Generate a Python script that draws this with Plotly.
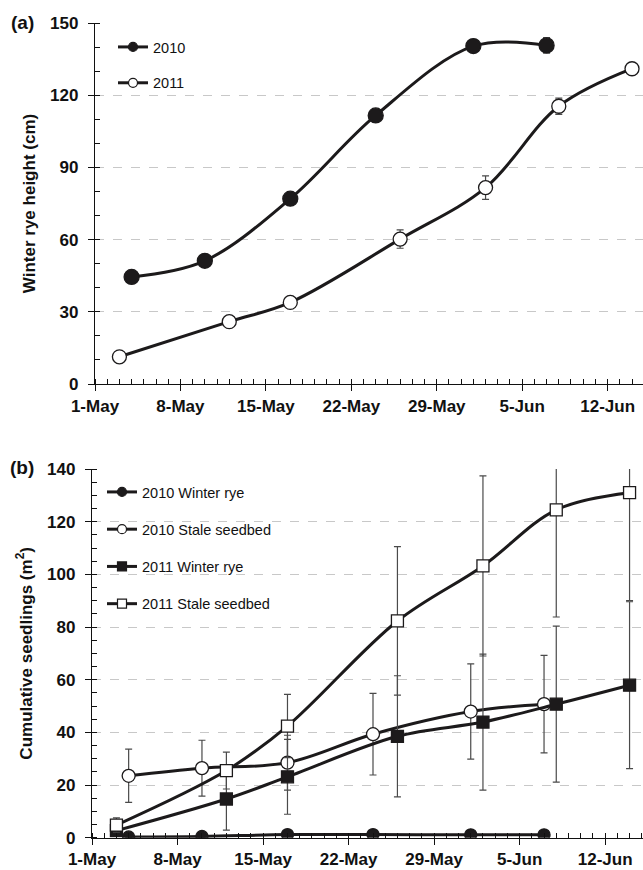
import plotly.graph_objects as go
from datetime import datetime, timedelta

REF_YEAR = "2000"

# ---- Panel (a): winter rye height ----
dates_2010_a = ["05-04", "05-10", "05-17", "05-24", "06-01", "06-07"]
height_2010 = [44.5, 51.2, 77.0, 111.6, 140.4, 140.7]
height_2010_err = [1.0, 1.0, 1.5, 1.5, 1.5, 3.2]

dates_2011_a = ["05-03", "05-12", "05-17", "05-26", "06-02", "06-08", "06-14"]
height_2011 = [11.3, 25.9, 33.9, 60.2, 81.6, 115.4, 131.0]
height_2011_err = [0.8, 1.0, 1.2, 3.8, 4.9, 3.4, 1.5]

# ---- Panel (b): cumulative seedlings ----
dates_2010_b = ["05-04", "05-10", "05-17", "05-24", "06-01", "06-07"]
wr_2010 = [0.3, 0.5, 1.2, 1.2, 1.1, 1.1]
wr_2010_err = [0.3, 0.3, 0.5, 0.5, 0.5, 0.5]
ss_2010 = [23.5, 26.4, 28.5, 39.3, 47.9, 50.7]
ss_2010_err = [10.1, 10.6, 10.4, 15.5, 18.1, 18.5]

dates_2011_b = ["05-03", "05-12", "05-17", "05-26", "06-02", "06-08", "06-14"]
wr_2011 = [2.7, 14.7, 23.1, 38.5, 43.9, 50.7, 57.9]
wr_2011_err = [1.0, 11.8, 14.2, 23.0, 25.8, 29.6, 31.7]
ss_2011 = [4.8, 25.5, 42.4, 82.3, 103.2, 124.5, 131.0]
ss_2011_err = [2.7, 7.0, 12.0, 28.2, 34.2, 40.7, 41.0]

tick_labels = ["1-May", "8-May", "15-May", "22-May", "29-May", "5-Jun", "12-Jun"]


def d(md_list):
    return [f"{REF_YEAR}-{md}" for md in md_list]


start = datetime(2000, 5, 1)
tickvals = [(start + timedelta(days=7 * i)).strftime("%Y-%m-%d") for i in range(len(tick_labels))]
range_a = [start.strftime("%Y-%m-%d"), (start + timedelta(days=44.9)).strftime("%Y-%m-%d %H:%M")]
range_b = [start.strftime("%Y-%m-%d"), (start + timedelta(days=45.1)).strftime("%Y-%m-%d %H:%M")]

LINE = "#1c1a1b"
ERR = "#4a4a4a"
W = 643
H = 870

fig = go.Figure()


def add_series(x, y, err, xa, ya, symbol, fill, size, name, legend, rank):
    fig.add_trace(go.Scatter(
        x=d(x), y=y, xaxis=xa, yaxis=ya, mode="lines+markers",
        line=dict(color=LINE, width=3, shape="spline", smoothing=1.0),
        marker=dict(symbol=symbol, size=size, color=fill, line=dict(color=LINE, width=1.3)),
        error_y=dict(type="data", array=err, visible=True, color=ERR, thickness=1.2, width=3.5),
        showlegend=False, hoverinfo="skip",
    ))
    # legend-only entry
    fig.add_trace(go.Scatter(
        x=[None], y=[None], xaxis=xa, yaxis=ya, mode="lines+markers", name=name,
        line=dict(color=LINE, width=3),
        marker=dict(symbol=symbol, size=9, color=fill, line=dict(color=LINE, width=1.2)),
        legend=legend, legendgroup=name, legendrank=rank, showlegend=True,
    ))


add_series(dates_2010_a, height_2010, height_2010_err, "x", "y", "circle", LINE, 15, "2010", "legend", 1)
add_series(dates_2011_a, height_2011, height_2011_err, "x", "y", "circle", "white", 14, "2011", "legend", 2)

add_series(dates_2010_b, ss_2010, ss_2010_err, "x2", "y2", "circle", "white", 13, "2010 Stale seedbed", "legend2", 2)
add_series(dates_2011_b, wr_2011, wr_2011_err, "x2", "y2", "square", LINE, 12, "2011 Winter rye", "legend2", 3)
add_series(dates_2011_b, ss_2011, ss_2011_err, "x2", "y2", "square", "white", 12, "2011 Stale seedbed", "legend2", 4)
add_series(dates_2010_b, wr_2010, wr_2010_err, "x2", "y2", "circle", LINE, 12, "2010 Winter rye", "legend2", 1)

FONT = "Liberation Sans, Arial, Helvetica, sans-serif"
tickfont = dict(family=FONT, size=17, color="#111", weight="bold")

xcommon = dict(
    type="date", tickmode="array", tickvals=tickvals, ticktext=tick_labels,
    tickfont=tickfont, showline=True, linecolor="#111", linewidth=1.3,
    ticks="outside", ticklen=6, tickwidth=1.3, tickcolor="#111",
    minor=dict(ticks="inside", ticklen=5, tickwidth=1, tickcolor="#111",
               dtick=86400000, tick0=tickvals[0], showgrid=False),
    showgrid=False, zeroline=False, fixedrange=True, automargin=False,
)
ycommon = dict(
    tickfont=tickfont, showline=True, linecolor="#111", linewidth=1.3,
    ticks="outside", ticklen=6, tickwidth=1.3, tickcolor="#111",
    showgrid=True, gridcolor="#c8c8c8", gridwidth=1, griddash="dash",
    zeroline=False, ticklabelstandoff=6, automargin=False, fixedrange=True,
)

fig.update_layout(
    width=W, height=H,
    margin=dict(l=0, r=0, t=0, b=0, autoexpand=False),
    paper_bgcolor="white", plot_bgcolor="white",
    font=dict(family=FONT, color="#111"),
    hovermode=False,
    xaxis=dict(xcommon, domain=[95 / W, 1.0], range=range_a, anchor="y"),
    yaxis=dict(ycommon, domain=[1 - 384 / H, 1 - 23 / H], range=[0, 150], dtick=30,
               minor=dict(ticks="inside", ticklen=5, tickwidth=1, tickcolor="#111", dtick=10, showgrid=False),
               title=dict(text="Winter rye height (cm)", font=dict(size=17, weight="bold", family=FONT), standoff=10),
               anchor="x"),
    xaxis2=dict(xcommon, domain=[92 / W, 1.0], range=range_b, anchor="y2"),
    yaxis2=dict(ycommon, domain=[1 - 837.7 / H, 1 - 469 / H], range=[0, 140], dtick=20,
                minor=dict(ticks="inside", ticklen=5, tickwidth=1, tickcolor="#111", dtick=5, showgrid=False),
                title=dict(text="Cumulative seedlings (m<sup>2</sup>)", font=dict(size=17, weight="bold", family=FONT), standoff=10),
                anchor="x2"),
    legend=dict(x=113 / W, y=1 - 31 / H, xanchor="left", yanchor="top",
                bgcolor="rgba(0,0,0,0)", font=dict(family=FONT, size=14.5, color="#111"),
                traceorder="grouped", tracegroupgap=14, itemclick=False),
    legend2=dict(x=102 / W, y=1 - 476 / H, xanchor="left", yanchor="top",
                 bgcolor="rgba(0,0,0,0)", font=dict(family=FONT, size=14.5, color="#111"),
                 traceorder="grouped", tracegroupgap=15.4, itemclick=False),
    annotations=[
        dict(text="(a)", x=22 / W, y=1 - 22 / H, xref="paper", yref="paper", showarrow=False,
             xanchor="center", yanchor="middle",
             font=dict(family=FONT, size=19, weight="bold", color="#111")),
        dict(text="(b)", x=22 / W, y=1 - 467 / H, xref="paper", yref="paper", showarrow=False,
             xanchor="center", yanchor="middle",
             font=dict(family=FONT, size=19, weight="bold", color="#111")),
    ],
)

fig.write_html("out.html", config={"displayModeBar": False},
               post_script="document.body.style.margin='0';document.body.style.padding='0';")
